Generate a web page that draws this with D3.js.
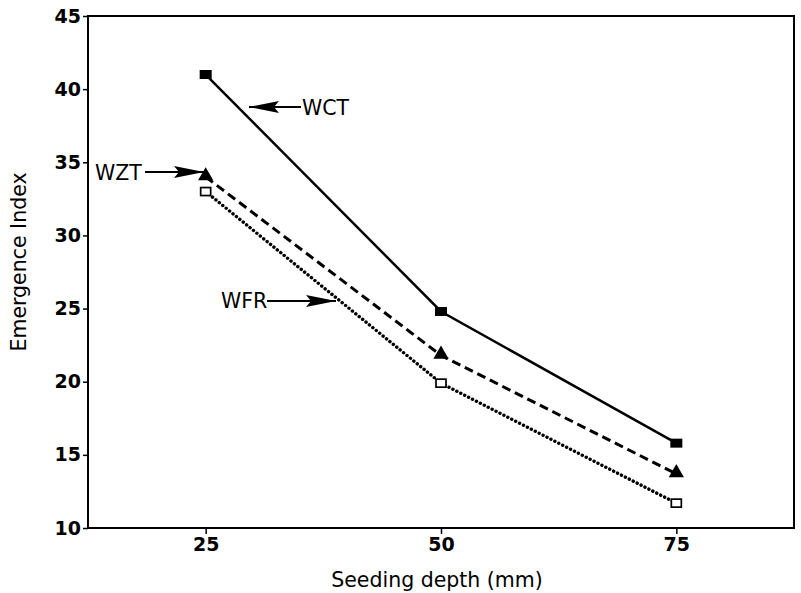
<!DOCTYPE html>
<html>
<head>
<meta charset="utf-8">
<script src="https://cdn.jsdelivr.net/npm/d3@7"></script>
<style>
  html, body { margin: 0; padding: 0; background: #fff; }
  svg { display: block; }
  text { font-family: "DejaVu Sans", "Liberation Sans", Arial, sans-serif; fill: #000; }
</style>
</head>
<body>
<svg id="chart" width="801" height="593"></svg>
<script>
// Seeding depth (mm)
const depths = [25, 50, 75];
// Emergence index per treatment
const wct = [41, 24.8, 15.8];
const wzt = [34, 21.8, 13.7];
const wfr = [33, 19.9, 11.7];
const seriesNames = ["WCT", "WZT", "WFR"];
const yTicks = [10, 15, 20, 25, 30, 35, 40, 45];
const xTicks = [25, 50, 75];

const svg = d3.select("#chart");
const plotLeft = 88, plotRight = 794, plotTop = 16, plotBottom = 528;

const x = d3.scaleLinear().domain([12.5, 87.5]).range([plotLeft, plotRight]);
const y = d3.scaleLinear().domain([10, 45]).range([plotBottom, plotTop]);

const ink = "#000";

// Frame
svg.append("rect")
  .attr("x", plotLeft).attr("y", plotTop)
  .attr("width", plotRight - plotLeft).attr("height", plotBottom - plotTop)
  .attr("fill", "none").attr("stroke", ink).attr("stroke-width", 2);

// Y axis
const yAxis = svg.append("g")
  .attr("transform", `translate(${plotLeft},0)`)
  .call(d3.axisLeft(y).tickValues(yTicks).tickSize(5).tickPadding(2).tickFormat(d3.format("d")));
yAxis.select(".domain").remove();
yAxis.selectAll("line").attr("stroke", ink).attr("stroke-width", 1.5);
yAxis.selectAll("text")
  .style("font-family", "'DejaVu Sans', sans-serif")
  .style("font-size", "19px").style("font-weight", "bold").attr("fill", ink);

// X axis
const xAxis = svg.append("g")
  .attr("transform", `translate(0,${plotBottom})`)
  .call(d3.axisBottom(x).tickValues(xTicks).tickSize(6).tickPadding(4).tickFormat(d3.format("d")));
xAxis.select(".domain").remove();
xAxis.selectAll("line").attr("stroke", ink).attr("stroke-width", 1.5);
xAxis.selectAll("text")
  .style("font-family", "'DejaVu Sans', sans-serif")
  .style("font-size", "19px").style("font-weight", "bold").attr("fill", ink);

// Axis titles
svg.append("text")
  .attr("x", 437).attr("y", 587)
  .attr("text-anchor", "middle")
  .style("font-size", "20.5px")
  .text("Seeding depth (mm)");

svg.append("text")
  .attr("transform", "translate(26,262) rotate(-90)")
  .attr("text-anchor", "middle")
  .style("font-size", "20.5px")
  .text("Emergence Index");

// Series lines
const line = d3.line().x((d, i) => x(depths[i])).y(d => y(d));

const styles = [
  { data: wct, dash: null, width: 2.5, cap: "butt" },
  { data: wzt, dash: "9,5", width: 3, cap: "butt" },
  { data: wfr, dash: "0.1,4.3", width: 3.4, cap: "round" }
];

styles.forEach(s => {
  svg.append("path")
    .datum(s.data)
    .attr("d", line)
    .attr("fill", "none")
    .attr("stroke", ink)
    .attr("stroke-width", s.width)
    .attr("stroke-linecap", s.cap)
    .attr("stroke-dasharray", s.dash);
});

// Markers
svg.selectAll(".m-wct").data(wct).enter().append("rect")
  .attr("x", (d, i) => x(depths[i]) - 6)
  .attr("y", d => y(d) - 4.5)
  .attr("width", 12).attr("height", 9)
  .attr("fill", ink);

const tri = d3.symbol().type(d3.symbolTriangle).size(100);
svg.selectAll(".m-wzt").data(wzt).enter().append("path")
  .attr("d", tri)
  .attr("transform", (d, i) => `translate(${x(depths[i])},${y(d) - 1})`)
  .attr("fill", ink);

svg.selectAll(".m-wfr").data(wfr).enter().append("rect")
  .attr("x", (d, i) => x(depths[i]) - 5)
  .attr("y", d => y(d) - 4)
  .attr("width", 10).attr("height", 8)
  .attr("fill", "#fff").attr("stroke", ink).attr("stroke-width", 1.7);

// Series labels with pointer arrows
const defs = svg.append("defs");
defs.append("marker")
  .attr("id", "head")
  .attr("viewBox", "0 0 30 12")
  .attr("refX", 30).attr("refY", 6)
  .attr("markerWidth", 30).attr("markerHeight", 12)
  .attr("markerUnits", "userSpaceOnUse")
  .attr("orient", "auto")
  .append("path").attr("d", "M0,0 L30,6 L0,12 L5,6 Z").attr("fill", ink);

const labels = [
  { name: seriesNames[0], tx: 302, ty: 115, x1: 301, x2: 249, ly: 107 },
  { name: seriesNames[1], tx: 95, ty: 180, x1: 145, x2: 204, ly: 172 },
  { name: seriesNames[2], tx: 221, ty: 308, x1: 267, x2: 336, ly: 301 }
];

labels.forEach(l => {
  svg.append("text")
    .attr("x", l.tx).attr("y", l.ty)
    .style("font-size", "20.5px")
    .text(l.name);
  svg.append("line")
    .attr("x1", l.x1).attr("y1", l.ly)
    .attr("x2", l.x2).attr("y2", l.ly)
    .attr("stroke", ink).attr("stroke-width", 1.8)
    .attr("marker-end", "url(#head)");
});
</script>
</body>
</html>
